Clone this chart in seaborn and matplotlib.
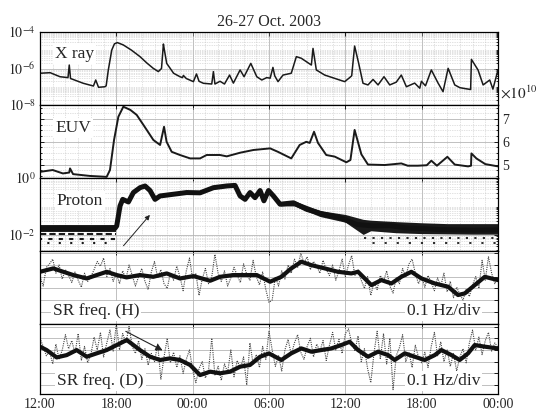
import numpy as np
import matplotlib
matplotlib.use("Agg")
import matplotlib.pyplot as plt
import matplotlib.ticker as mticker
import seaborn as sns

# ---------------- data (time = hours since 12:00 UT, 26 Oct 2003) ----------------
tick_hours = [0, 6, 12, 18, 24, 30, 36]
tick_labels = ["12:00", "18:00", "00:00", "06:00", "12:00", "18:00", "00:00"]

xray_t = [0, 0.8, 1.57, 2.2, 2.3, 2.4, 2.6, 3.4, 4.2, 4.38, 4.6, 5.1, 5.2, 5.37, 5.64, 5.85, 6.08,
          6.55, 7.2, 7.86, 8.4, 8.9, 9.3, 9.55, 9.7, 9.78, 9.96, 10.5, 11.0, 11.2, 11.27, 11.5,
          12.06, 12.3, 12.5, 12.84, 13.5, 13.63, 13.75, 14.15, 14.5, 14.9, 15.2, 15.73, 16.04,
          16.57, 17.04, 17.43, 17.82, 18.09, 18.31, 18.45, 18.71, 19.1, 19.75, 20.15, 20.54,
          21.33, 21.46, 21.72, 22.38, 23.42, 23.95, 24.34, 24.5, 24.73, 25.05, 25.39, 25.78,
          26.18, 26.57, 27.04, 27.49, 28.0, 28.4, 28.8, 29.45, 29.85, 29.98, 30.3, 30.76, 31.29,
          31.68, 32.08, 32.6, 33.0, 33.4, 33.85, 33.91, 34.43, 34.83, 35.35, 35.6, 36.0]
xray_log10 = [-6.26, -6.23, -6.45, -6.5, -5.81, -6.55, -6.6, -6.81, -6.96, -6.63, -7.03, -7.0, -6.95,
              -6.08, -4.99, -4.65, -4.58, -4.71, -5.0, -5.35, -5.7, -5.99, -6.17, -6.0, -4.66, -5.0,
              -5.72, -6.26, -6.45, -6.5, -6.38, -6.55, -6.72, -6.3, -6.7, -6.81, -6.85, -6.17, -6.85,
              -6.7, -6.85, -6.36, -6.8, -6.08, -6.45, -5.72, -6.45, -6.63, -6.5, -6.53, -5.94, -6.4,
              -6.72, -6.36, -6.26, -5.35, -5.44, -5.81, -4.9, -6.08, -6.36, -6.6, -6.72, -6.5, -6.4,
              -4.77, -5.72, -6.81, -6.9, -6.6, -6.9, -6.45, -6.9, -6.75, -6.36, -7.0, -6.8, -7.08,
              -6.7, -6.95, -6.08, -6.8, -7.27, -5.99, -6.9, -7.05, -7.1, -7.15, -5.5, -6.08, -6.9,
              -6.63, -7.13, -6.08]

euv_t = [0, 1.0, 1.8, 2.3, 2.36, 2.6, 3.93, 5.24, 5.5, 5.82, 6.16, 6.55, 7.1, 7.6, 8.13, 8.91,
         9.44, 9.75, 9.95, 10.35, 11.0, 11.8, 12.58, 13.1, 14.15, 14.68, 15.73, 16.78, 18.09,
         18.7, 19.75, 20.41, 20.93, 21.2, 21.54, 21.85, 22.5, 23.16, 24.08, 24.4, 24.73, 25.26,
         25.78, 27.1, 28.4, 28.9, 29.7, 30.4, 30.76, 31.2, 32.02, 32.6, 33.65, 33.88, 33.91,
         34.3, 35.0, 36.0]
euv_e10 = [4.68, 4.76, 4.61, 4.65, 4.83, 4.58, 4.5, 4.46, 4.76, 6.08, 7.1, 7.54, 7.4, 7.18, 6.74,
           6.08, 5.86, 6.66, 6.0, 5.56, 5.42, 5.27, 5.27, 5.42, 5.42, 5.36, 5.52, 5.64, 5.71,
           5.56, 5.27, 5.86, 6.0, 5.95, 6.44, 5.95, 5.42, 5.35, 5.1, 5.2, 6.52, 5.45, 5.0, 4.98,
           5.05, 4.95, 4.95, 4.97, 5.17, 4.95, 5.34, 5.0, 4.92, 4.95, 5.49, 5.27, 5.02, 4.92]

proton_t = [0, 2, 4, 5.9, 6.03, 6.29, 6.5, 6.95, 7.34, 7.86, 8.26, 8.65, 9.04, 9.44, 10.48, 11.53,
            12.58, 13.63, 14.68, 15.33, 15.73, 16.12, 16.51, 16.9, 17.3, 17.6, 17.96, 18.35,
            18.87, 19.92, 20.97, 22.28, 23.59, 24.9, 26.2, 27.5, 28.8, 30.1, 31.4, 32.8, 34.1, 36.0]
proton_log10 = [-1.78, -1.76, -1.78, -1.76, -1.68, -0.98, -0.75, -0.84, -0.51, -0.34, -0.28, -0.44,
                -0.75, -0.63, -0.57, -0.51, -0.52, -0.34, -0.28, -0.26, -0.63, -0.75, -0.51, -0.69,
                -0.44, -0.8, -0.44, -0.63, -0.92, -0.87, -1.1, -1.27, -1.39, -1.63, -1.68, -1.67,
                -1.75, -1.77, -1.81, -1.82, -1.83, -1.82]
# scatter envelope before the event
proton_pre_t = [0, 6.0]
proton_pre_hi = [-1.64, -1.64]
proton_pre_lo = [-1.9, -1.9]
# scatter envelope in the decay phase
proton_env_t = [18.9, 20, 22, 24, 25.4, 26, 28, 30, 32, 34, 36]
proton_env_hi = [-0.85, -0.8, -1.14, -1.28, -1.45, -1.48, -1.53, -1.57, -1.6, -1.6, -1.6]
proton_env_lo = [-0.98, -0.98, -1.35, -1.55, -1.98, -1.85, -1.92, -1.95, -1.96, -1.97, -1.97]
proton_pre_levels = [-1.98, -2.13, -2.27]
proton_post_levels = [-2.12, -2.27]

sr_h_t = [0, 1.05, 1.83, 2.62, 3.67, 4.46, 5.24, 6.03, 6.8, 7.86, 8.9, 9.96, 11.0, 12.06, 13.37,
          14.15, 15.2, 16.25, 17.04, 18.09, 18.97, 19.75, 20.54, 21.33, 22.38, 23.42, 24.47, 25.0,
          26.05, 26.83, 27.62, 28.4, 29.19, 29.98, 31.03, 32.08, 32.86, 33.39, 34.17, 34.96, 36.0]
sr_h_smooth = [0.342, 0.371, 0.342, 0.314, 0.285, 0.314, 0.342, 0.314, 0.294, 0.314, 0.299, 0.328,
               0.285, 0.305, 0.265, 0.299, 0.314, 0.314, 0.314, 0.257, 0.299, 0.371, 0.428, 0.399,
               0.371, 0.342, 0.328, 0.342, 0.228, 0.271, 0.242, 0.299, 0.342, 0.285, 0.242, 0.214,
               0.143, 0.157, 0.228, 0.299, 0.271]
sr_raw_t = [0.25 * i for i in range(145)]
sr_h_raw = [0.30, 0.22, 0.38, 0.41, 0.45, 0.33, 0.40, 0.28, 0.36, 0.31, 0.25, 0.34, 0.27, 0.21, 0.33,
            0.26, 0.30, 0.36, 0.43, 0.39, 0.46, 0.30, 0.37, 0.26, 0.33,
            0.24, 0.35, 0.28, 0.40, 0.31, 0.22, 0.30, 0.37, 0.26, 0.19, 0.34, 0.43, 0.29, 0.36,
            0.24, 0.20, 0.33, 0.27, 0.39, 0.30, 0.18, 0.35, 0.46, 0.28,
            0.33, 0.14, 0.28, 0.37, 0.24, 0.30, 0.49, 0.33, 0.26, 0.35, 0.22, 0.29, 0.38, 0.31,
            0.25, 0.41, 0.32, 0.27, 0.44, 0.30, 0.23, 0.34, 0.19, 0.08,
            0.10, 0.30, 0.22, 0.35, 0.28, 0.40, 0.33, 0.45, 0.38, 0.50, 0.42, 0.47, 0.36, 0.43,
            0.39, 0.33, 0.44, 0.36, 0.31, 0.40, 0.27, 0.35, 0.45, 0.30,
            0.40, 0.48, 0.31, 0.36, 0.27, 0.20, 0.30, 0.14, 0.25, 0.19, 0.31, 0.26, 0.35, 0.22,
            0.16, 0.29, 0.24, 0.37, 0.30, 0.41, 0.45, 0.33, 0.24, 0.30,
            0.21, 0.31, 0.25, 0.18, 0.29, 0.22, 0.33, 0.17, 0.26, 0.12, 0.21, 0.15, 0.10, 0.19,
            0.13, 0.23, 0.30, 0.20, 0.44, 0.27, 0.47, 0.33, 0.24, 0.30]

sr_d_t = [0, 0.52, 1.31, 2.1, 2.88, 3.67, 4.46, 5.24, 6.03, 6.82, 7.34, 7.86, 8.65, 9.44, 10.22,
          11.0, 11.8, 12.58, 13.37, 14.15, 14.94, 15.73, 16.5, 17.3, 18.0, 18.97, 19.75, 20.54,
          21.33, 22.11, 22.9, 23.69, 24.34, 25.0, 25.78, 26.57, 27.36, 27.88, 28.67, 29.45, 30.24,
          31.03, 31.55, 32.34, 32.99, 33.65, 34.17, 34.96, 36.0]
sr_d_smooth = [0.328, 0.299, 0.236, 0.256, 0.299, 0.242, 0.271, 0.299, 0.342, 0.385, 0.342, 0.299,
               0.242, 0.214, 0.228, 0.214, 0.171, 0.085, 0.114, 0.100, 0.114, 0.157, 0.171, 0.242,
               0.270, 0.214, 0.271, 0.313, 0.285, 0.299, 0.313, 0.342, 0.370, 0.299, 0.242, 0.285,
               0.256, 0.214, 0.271, 0.242, 0.214, 0.256, 0.299, 0.256, 0.214, 0.271, 0.342, 0.328,
               0.313]
sr_d_raw = [0.40, 0.33, 0.25, 0.29, 0.18, 0.35, 0.22, 0.30, 0.43, 0.31, 0.38, 0.27, 0.44, 0.21, 0.33,
            0.19, 0.26, 0.41, 0.30, 0.45, 0.24, 0.36, 0.47, 0.29, 0.52,
            0.30, 0.44, 0.36, 0.50, 0.33, 0.27, 0.38, 0.22, 0.31, 0.17, 0.27, 0.20, 0.35, 0.05,
            0.24, 0.40, 0.19, 0.28, 0.15, 0.25, 0.10, 0.22, 0.30, 0.13,
            0.02, 0.14, 0.20, 0.06, 0.13, 0.40, 0.08, 0.16, 0.04, 0.18, 0.11, 0.30, 0.07, 0.21,
            0.14, 0.24, 0.00, 0.36, 0.18, 0.26, 0.15, 0.33, 0.22, 0.46,
            0.30, 0.16, 0.25, 0.12, 0.30, 0.39, 0.26, 0.36, 0.43, 0.28, 0.22, 0.33, 0.40, 0.24,
            0.35, 0.29, 0.38, 0.21, 0.34, 0.45, 0.30, 0.39, 0.27, 0.44,
            0.48, 0.36, 0.29, 0.42, 0.20, 0.31, 0.14, 0.02, 0.27, 0.46, 0.22, 0.44, 0.18, 0.40,
            -0.04, 0.25, 0.32, 0.43, 0.20, 0.28, 0.15, 0.34, 0.24, 0.19,
            0.28, 0.15, 0.33, 0.45, 0.25, 0.37, 0.20, 0.30, 0.16, 0.27, 0.12, 0.24, 0.31, 0.19,
            0.36, 0.47, 0.30, 0.41, 0.26, 0.38, 0.45, 0.29, 0.36, 0.32]

# ---------------- style ----------------
sns.set_style("white")
plt.rcParams["font.family"] = ["Liberation Serif", "DejaVu Serif"]
plt.rcParams["mathtext.fontset"] = "stix"
plt.rcParams["xtick.direction"] = "in"
plt.rcParams["ytick.direction"] = "in"

W, H = 538, 416
fig = plt.figure(figsize=(W / 100, H / 100), dpi=100)
edges = [32, 105, 178, 251, 324, 394]
axes = []
for i in range(5):
    top, bot = edges[i], edges[i + 1]
    ax = fig.add_axes([40 / W, 1 - bot / H, 458 / W, (bot - top) / H])
    axes.append(ax)
ax_x, ax_e, ax_p, ax_h, ax_d = axes

major_grid = dict(color="#b5b5b5", lw=0.6, ls="-")
minor_grid = dict(color="#c4c4c4", lw=0.5, ls=(0, (1, 1.5)))

for i, ax in enumerate(axes):
    ax.set_xlim(0, 36)
    ax.set_xticks(tick_hours)
    ax.tick_params(axis="both", which="both", top=True, right=True, labelsize=10,
                   length=3, width=0.6, pad=3, color="k")
    ax.tick_params(which="minor", length=1.5)
    for s in ax.spines.values():
        s.set_color("k")
        s.set_linewidth(0.9)
    ax.set_axisbelow(True)

# ---------- X ray ----------
sns.lineplot(x=xray_t, y=10 ** np.array(xray_log10), ax=ax_x, color="#1a1a1a", lw=1.1,
             estimator=None, sort=False)
ax_x.set_yscale("log")
ax_x.set_ylim(1e-8, 1e-4)
ax_x.set_yticks([1e-8, 1e-6, 1e-4])
ax_x.set_yticklabels([r"$10^{-8}$", r"$10^{-6}$", r"$10^{-4}$"])
ax_x.yaxis.set_minor_locator(mticker.LogLocator(base=10, subs=np.arange(1, 10), numticks=20))
ax_x.yaxis.set_minor_formatter(mticker.NullFormatter())

# ---------- EUV ----------
sns.lineplot(x=euv_t, y=euv_e10, ax=ax_e, color="#1a1a1a", lw=1.4, estimator=None, sort=False)
ax_e.set_ylim(4.41, 7.615)
ax_e.yaxis.set_ticks_position("both")
ax_e.set_yticks([5, 6, 7])
ax_e.tick_params(axis="y", labelleft=False, labelright=True)
ax_e.yaxis.set_minor_locator(mticker.MultipleLocator(0.25))

# ---------- Proton ----------
ax_p.fill_between(proton_pre_t, 10 ** np.array(proton_pre_lo), 10 ** np.array(proton_pre_hi),
                  color="#222222", lw=0)
ax_p.fill_between(proton_env_t, 10 ** np.array(proton_env_lo), 10 ** np.array(proton_env_hi),
                  color="#1a1a1a", lw=0)
sns.lineplot(x=proton_t, y=10 ** np.array(proton_log10), ax=ax_p, color="#111111", lw=3.6,
             estimator=None, sort=False)
for k, lev in enumerate(proton_pre_levels):
    ax_p.plot([0, 6.0], [10 ** lev] * 2, color="#1a1a1a", lw=1.5,
              ls=(k, (3 - k, 1.5 + 1.5 * k)))
for k, lev in enumerate(proton_post_levels):
    ax_p.plot([25.5, 36], [10 ** lev] * 2, color="#1a1a1a", lw=1.3,
              ls=(k * 2, (1.2, 3.5 + 2 * k)))
ax_p.set_yscale("log")
ax_p.set_ylim(10 ** -2.56, 1)
ax_p.set_yticks([1e-2, 1])
ax_p.set_yticklabels([r"$10^{-2}$", r"$10^{0}$"])
ax_p.yaxis.set_minor_locator(mticker.LogLocator(base=10, subs=np.arange(1, 10), numticks=20))
ax_p.yaxis.set_minor_formatter(mticker.NullFormatter())
ax_p.annotate("", xy=(8.78, 10 ** -1.22), xytext=(6.42, 10 ** -2.45),
              arrowprops=dict(arrowstyle="-|>", color="#222222", lw=0.7, mutation_scale=7))

# ---------- SR panels ----------
for ax, raw, st, sm, lim in [(ax_h, sr_h_raw, sr_h_t, sr_h_smooth, (-0.105, 0.52)),
                             (ax_d, sr_d_raw, sr_d_t, sr_d_smooth, (-0.077, 0.522))]:
    sns.lineplot(x=sr_raw_t, y=raw, ax=ax, color="#444444", lw=0.8, ls=(0, (1, 1)),
                 estimator=None, sort=False)
    sns.lineplot(x=st, y=sm, ax=ax, color="#111111", lw=3.0, estimator=None, sort=False)
    ax.set_ylim(*lim)
    ax.set_yticks([0, 0.1, 0.2, 0.3, 0.4, 0.5])
    ax.set_yticklabels([])
    ax.grid(True, axis="y", **major_grid)
    ax.grid(True, axis="x", **major_grid)

ax_d.annotate("", xy=(9.83, 0.285), xytext=(6.55, 0.47),
              arrowprops=dict(arrowstyle="-|>", color="#222222", lw=0.8, mutation_scale=10))

# ---------- grids for upper panels ----------
for ax in (ax_x, ax_e, ax_p):
    ax.xaxis.set_minor_locator(mticker.MultipleLocator(1))
    ax.grid(True, which="major", **major_grid)
    ax.grid(True, which="minor", **minor_grid)
    ax.tick_params(axis="x", which="minor", length=0)

for i, ax in enumerate(axes):
    ax.set_xlabel("")
    ax.set_ylabel("")
    ax.set_xticks(tick_hours)
    if i < 4:
        ax.set_xticklabels([])
    else:
        ax.set_xticklabels(tick_labels)

# ---------- labels ----------
box = dict(facecolor="white", edgecolor="none", pad=1.5)
fs = 12.5
ax_x.text(0.033, 0.644, "X ray", transform=ax_x.transAxes, fontsize=fs, va="baseline", bbox=box)
ax_e.text(0.033, 0.63, "EUV", transform=ax_e.transAxes, fontsize=fs, va="baseline", bbox=box)
ax_p.text(0.037, 0.63, "Proton", transform=ax_p.transAxes, fontsize=fs, va="baseline", bbox=box)
ax_h.text(0.028, 0.123, "SR freq. (H)", transform=ax_h.transAxes, fontsize=fs, va="baseline", bbox=box)
ax_h.text(0.801, 0.123, "0.1 Hz/div", transform=ax_h.transAxes, fontsize=fs, va="baseline", bbox=box)
ax_d.text(0.037, 0.129, "SR freq. (D)", transform=ax_d.transAxes, fontsize=fs, va="baseline", bbox=box)
ax_d.text(0.801, 0.129, "0.1 Hz/div", transform=ax_d.transAxes, fontsize=fs, va="baseline", bbox=box)

fig.text(269 / W, 1 - 22 / H, "26-27 Oct. 2003", ha="center", va="center", fontsize=11.5)
fig.text(500 / W, 1 - 93 / H, r"$\times10^{10}$", ha="left", va="center", fontsize=11)

fig.savefig("out.png", dpi=100)
